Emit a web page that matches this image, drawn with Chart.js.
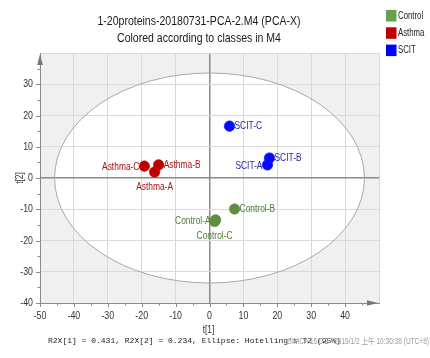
<!DOCTYPE html>
<html><head><meta charset="utf-8">
<script src="https://cdn.jsdelivr.net/npm/chart.js@4"></script>
<style>html,body{margin:0;padding:0;background:#fff;overflow:hidden}#wrap{width:430px;height:358px;position:relative}</style>
</head><body><div id="wrap"><canvas id="c" width="430" height="358"></canvas></div>
<script>
const titleLines = ['1-20proteins-20180731-PCA-2.M4 (PCA-X)', 'Colored according to classes in M4'];
const classNames = ['Control', 'Asthma', 'SCIT'];
const controlNames = ['Control-A', 'Control-B', 'Control-C'];
const controlT1 = [1.8, 7.4, 1.5];
const controlT2 = [-13.4, -9.9, -13.9];
const asthmaNames = ['Asthma-A', 'Asthma-B', 'Asthma-C'];
const asthmaT1 = [-16.2, -15.0, -19.2];
const asthmaT2 = [1.9, 4.2, 3.8];
const scitNames = ['SCIT-A', 'SCIT-B', 'SCIT-C'];
const scitT1 = [17.1, 17.7, 5.9];
const scitT2 = [4.2, 6.4, 16.6];
const ellipseRadiusT1 = 45.7;
const ellipseRadiusT2 = 33.6;
const xRange = [-50, 50];
const yRange = [-40, 40];
const xAxisTitle = 't[1]';
const yAxisTitle = 't[2]';
const footerText = "R2X[1] = 0.431, R2X[2] = 0.234, Ellipse: Hotelling's T2 (95%)";
const stampText = 'SIMCA 15.0.2 - 2019/1/2 上午 10:30:38 (UTC+8)';

// label placement per point (style only)
const controlPlace = ['left', 'right', 'below'];
const asthmaPlace = ['below', 'right', 'left'];
const scitPlace = ['left', 'right', 'right'];

const SANS = "'Liberation Sans','Noto Sans CJK SC',sans-serif";
const pointColors = ['#5d8f3e', '#c00000', '#0a0aff'];
const labelColors = ['#4e7d32', '#a31515', '#2626a6'];
const legendColors = ['#6a9f4c', '#c00000', '#0000ff'];

function pts(xs, ys) { return xs.map((x, i) => ({x: x, y: ys[i]})); }

// narrow text: horizontally condensed sans
function nText(ctx, txt, x, y, size, align, color, sx) {
  sx = sx || 0.8;
  ctx.save();
  ctx.font = size + 'px ' + SANS;
  ctx.fillStyle = color;
  ctx.textBaseline = 'middle';
  ctx.textAlign = 'left';
  const w = ctx.measureText(txt).width * sx;
  let x0 = x;
  if (align === 'center') x0 = x - w / 2;
  else if (align === 'right') x0 = x - w;
  ctx.translate(x0, y);
  ctx.scale(sx, 1);
  ctx.fillText(txt, 0, 0);
  ctx.restore();
}

const datasets = [
  {label: classNames[0], data: pts(controlT1, controlT2), names: controlNames, place: controlPlace, ci: 0},
  {label: classNames[1], data: pts(asthmaT1, asthmaT2), names: asthmaNames, place: asthmaPlace, ci: 1},
  {label: classNames[2], data: pts(scitT1, scitT2), names: scitNames, place: scitPlace, ci: 2}
].map(d => Object.assign(d, {
  backgroundColor: pointColors[d.ci], borderColor: pointColors[d.ci], borderWidth: 0.5,
  pointRadius: 5.3, pointHoverRadius: 5.3
}));

const decor = {
  id: 'decor',
  beforeDraw(chart) {
    const {ctx, chartArea: a, scales: {x, y}} = chart;
    ctx.save();
    ctx.fillStyle = '#f0f0f0';
    ctx.fillRect(a.left, a.top, a.right - a.left, a.bottom - a.top);
    const cx = x.getPixelForValue(0), cy = y.getPixelForValue(0);
    const rx = x.getPixelForValue(ellipseRadiusT1) - cx;
    const ry = cy - y.getPixelForValue(ellipseRadiusT2);
    ctx.beginPath();
    ctx.ellipse(cx, cy, rx, ry, 0, 0, Math.PI * 2);
    ctx.fillStyle = '#ffffff';
    ctx.fill();
    ctx.restore();
  },
  beforeDatasetsDraw(chart) {
    const {ctx, scales: {x, y}} = chart;
    const cx = x.getPixelForValue(0), cy = y.getPixelForValue(0);
    const rx = x.getPixelForValue(ellipseRadiusT1) - cx;
    const ry = cy - y.getPixelForValue(ellipseRadiusT2);
    ctx.save();
    ctx.beginPath();
    ctx.ellipse(cx, cy, rx, ry, 0, 0, Math.PI * 2);
    ctx.strokeStyle = '#a8a8a8';
    ctx.lineWidth = 1;
    ctx.stroke();
    ctx.restore();
  },
  afterDatasetsDraw(chart) {
    const {ctx} = chart;
    chart.data.datasets.forEach((ds, di) => {
      const meta = chart.getDatasetMeta(di);
      meta.data.forEach((el, i) => {
        const name = ds.names[i], pl = ds.place[i], col = labelColors[ds.ci];
        if (pl === 'left') nText(ctx, name, el.x - 5, el.y + 1, 10.5, 'right', col);
        else if (pl === 'right') nText(ctx, name, el.x + 5, el.y, 10.5, 'left', col);
        else nText(ctx, name, el.x, el.y + 15, 10.5, 'center', col);
      });
    });
  },
  afterDraw(chart) {
    const {ctx, chartArea: a, scales: {x, y}} = chart;
    ctx.save();
    // minor/major ticks
    ctx.strokeStyle = '#8a8a8a';
    ctx.lineWidth = 1;
    for (let v = xRange[0]; v <= xRange[1] - 5; v += 5) {
      const px = Math.round(x.getPixelForValue(v)) + 0.5;
      const len = (v % 10 === 0) ? 4 : 2.5;
      ctx.beginPath(); ctx.moveTo(px, a.bottom); ctx.lineTo(px, a.bottom + len); ctx.stroke();
    }
    for (let v = yRange[0]; v <= yRange[1] - 5; v += 5) {
      const py = Math.round(y.getPixelForValue(v)) + 0.5;
      const len = (v % 10 === 0) ? 4 : 2.5;
      ctx.beginPath(); ctx.moveTo(a.left, py); ctx.lineTo(a.left - len, py); ctx.stroke();
    }
    // tick labels from the library's ticks
    x.ticks.forEach(t => {
      if (t.value >= xRange[1]) return;
      nText(ctx, String(t.value), x.getPixelForValue(t.value), 316, 11, 'center', '#333');
    });
    y.ticks.forEach(t => {
      if (t.value >= yRange[1]) return;
      nText(ctx, String(t.value), 33, y.getPixelForValue(t.value), 11, 'right', '#333');
    });
    // arrows
    ctx.fillStyle = '#777';
    ctx.beginPath();
    ctx.moveTo(a.left, a.top + 1); ctx.lineTo(a.left - 2.8, a.top + 12); ctx.lineTo(a.left + 2.8, a.top + 12); ctx.closePath(); ctx.fill();
    ctx.beginPath();
    ctx.moveTo(a.right - 1, a.bottom); ctx.lineTo(a.right - 12, a.bottom - 2.8); ctx.lineTo(a.right - 12, a.bottom + 2.8); ctx.closePath(); ctx.fill();
    ctx.restore();

    // title
    nText(ctx, titleLines[0], 199, 21, 13.5, 'center', '#1a1a1a', 0.78);
    nText(ctx, titleLines[1], 199, 38.5, 13.5, 'center', '#1a1a1a', 0.78);

    // legend
    classNames.forEach((n, i) => {
      const top = 10 + i * 17.3;
      ctx.fillStyle = legendColors[i];
      ctx.fillRect(386, top, 10.5, 11.5);
      nText(ctx, n, 398, top + 6, 10, 'left', '#222', 0.78);
    });

    // axis titles
    nText(ctx, xAxisTitle, x.getPixelForValue(0) - 1, 330, 10.5, 'center', '#333');
    ctx.save();
    ctx.translate(20, y.getPixelForValue(0));
    ctx.rotate(-Math.PI / 2);
    nText(ctx, yAxisTitle, 0, 0, 10.5, 'center', '#333');
    ctx.restore();

    // footer
    ctx.save();
    ctx.fillStyle = '#222';
    ctx.textBaseline = 'middle';
    ctx.font = "8px 'Liberation Mono','DejaVu Sans Mono',monospace";
    ctx.textAlign = 'left';
    ctx.fillText(footerText, 48, 341);
    ctx.restore();
    nText(ctx, stampText, 429, 342, 8.2, 'right', '#9a9a9a', 0.8);
  }
};

function gridColor(c) { return (c.tick && c.tick.value === 0) ? '#8a8a8a' : '#d9d9d9'; }
function gridWidth(c) { return (c.tick && c.tick.value === 0) ? 1.5 : 1; }

new Chart(document.getElementById('c'), {
  type: 'scatter',
  data: {datasets: datasets},
  options: {
    responsive: false, animation: false, devicePixelRatio: 1,
    layout: {padding: {top: 53, right: 51, left: 0, bottom: 0}},
    plugins: {legend: {display: false}, tooltip: {enabled: false}, title: {display: false}},
    scales: {
      x: {
        type: 'linear', min: xRange[0], max: xRange[1],
        afterFit(s) { s.height = 55; },
        grid: {color: gridColor, lineWidth: gridWidth, drawTicks: false},
        border: {display: true, color: '#8a8a8a', width: 1},
        ticks: {stepSize: 10, display: false}
      },
      y: {
        type: 'linear', min: yRange[0], max: yRange[1],
        afterFit(s) { s.width = 40; },
        grid: {color: gridColor, lineWidth: gridWidth, drawTicks: false},
        border: {display: true, color: '#8a8a8a', width: 1},
        ticks: {stepSize: 10, display: false}
      }
    }
  },
  plugins: [decor]
});
</script>
</body></html>
